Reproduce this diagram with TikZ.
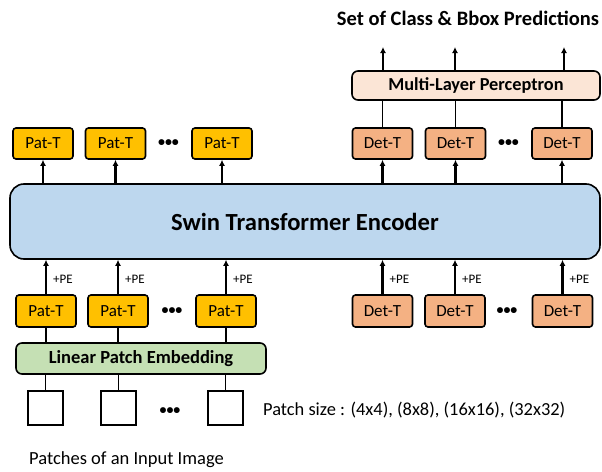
\documentclass[tikz,border=0pt]{standalone}
\usepackage{fontspec}
\setmainfont{Carlito}
\usetikzlibrary{arrows.meta}
\definecolor{patc}{HTML}{FFC000}
\definecolor{detc}{HTML}{F4B183}
\definecolor{encc}{HTML}{BDD7EE}
\definecolor{mlpc}{HTML}{FBE5D6}
\definecolor{lpec}{HTML}{C5E0B4}
\tikzset{
  tok/.style={draw=black, line width=1.6pt, rounded corners=3pt, inner sep=0pt,
    minimum width=60pt, minimum height=31pt, font=\fontsize{17}{19}\selectfont},
  pat/.style={tok, fill=patc},
  det/.style={tok, fill=detc},
  big/.style={draw=black, line width=1.6pt, inner sep=0pt},
  patch/.style={draw=black, line width=1.3pt, fill=white, minimum width=35pt, minimum height=34pt, inner sep=0pt},
  ln/.style={draw=black, line width=1.8pt},
  arr/.style={draw=black, line width=2.2pt, -{Latex[length=6pt,width=6pt]}},
  pe/.style={anchor=west, font=\fontsize{13}{14}\selectfont, inner sep=0pt},
  dots/.style={font=\fontsize{14}{15}\selectfont\bfseries, inner sep=0pt},
}
\begin{document}
\begin{tikzpicture}[x=1pt,y=-1pt]
\useasboundingbox (0,0) rectangle (602,471);
% encoder
\node[big, fill=encc, rounded corners=14pt, minimum width=590pt, minimum height=75pt,
  font=\fontsize{24.6}{26}\selectfont\bfseries] (enc) at (305,221.5) {Swin Transformer Encoder};
% MLP
\node[big, fill=mlpc, rounded corners=6pt, minimum width=248pt, minimum height=29pt,
  font=\fontsize{18.3}{20}\selectfont\bfseries] (mlp) at (476,85.5) {Multi-Layer Perceptron};
% LPE
\node[big, fill=lpec, rounded corners=6pt, minimum width=250pt, minimum height=31pt,
  font=\fontsize{18.5}{20}\selectfont\bfseries] (lpe) at (141,358.5) {Linear Patch Embedding};
% top tokens
\node[pat] (t1) at (43,143.5) {Pat-T};
\node[pat] (t2) at (115.5,143.5) {Pat-T};
\node[pat] (t3) at (222,143.5) {Pat-T};
\node[dots] (td) at (168.5,143.5) {•••};
\node[det] (u1) at (382.5,143.5) {Det-T};
\node[det] (u2) at (455.5,143.5) {Det-T};
\node[det] (u3) at (562,143.5) {Det-T};
\node[dots] (ud) at (508.5,143.5) {•••};
% bottom tokens
\node[pat, minimum height=32pt] (b1) at (46,311) {Pat-T};
\node[pat, minimum height=32pt] (b2) at (118,311) {Pat-T};
\node[pat, minimum height=32pt] (b3) at (226,311) {Pat-T};
\node[dots] (bd) at (172,311) {•••};
\node[det, minimum height=32pt] (d1) at (382.5,311) {Det-T};
\node[det, minimum height=32pt] (d2) at (455,311) {Det-T};
\node[det, minimum height=32pt] (d3) at (562.5,311) {Det-T};
\node[dots] (dd) at (507,311) {•••};
% patches
\node[patch] (q1) at (45.5,408) {};
\node[patch] (q2) at (118.5,408) {};
\node[patch] (q3) at (225.5,408) {};
\node[dots] (qd) at (170,411) {•••};
% texts
\node[anchor=west, inner sep=0pt, font=\fontsize{18.4}{20}\selectfont] (ps) at (263,410) {Patch size : (4x4), (8x8), (16x16), (32x32)};
\node[anchor=west, inner sep=0pt, font=\fontsize{18.5}{20}\selectfont] (pi) at (29,460) {Patches of an Input Image};
\node[inner sep=0pt, font=\fontsize{20.5}{22}\selectfont\bfseries] (title) at (468,18) {Set of Class \& Bbox Predictions};
% outputs
\coordinate (o1) at (383,47);
\coordinate (o2) at (455,47);
\coordinate (o3) at (564,47);
% connectors: top
\foreach \n in {t1,t2,t3,u1,u2,u3} \path[arr] (enc.north -| \n) -- (\n.south);
\foreach \n in {u1,u2,u3} \path[ln] (\n.north) -- (mlp.south -| \n);
\foreach \n in {o1,o2,o3} \path[arr] (mlp.north -| \n) -- (\n);
% bottom
\foreach \n in {b1,b2,b3,d1,d2,d3} {
  \path[arr] (\n.north) -- (enc.south -| \n);
  \node[pe] at ([xshift=7pt]\n.north |- 0,279) {+PE};
}
\foreach \n/\m in {q1/b1,q2/b2,q3/b3} {
  \path[ln] (\n.north) -- (lpe.south -| \n);
  \path[ln] (lpe.north -| \m) -- (\m.south);
}
\end{tikzpicture}
\end{document}
